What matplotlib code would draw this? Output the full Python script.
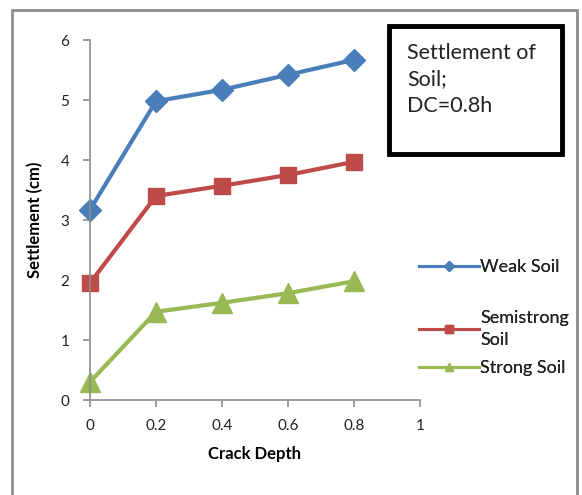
import matplotlib.pyplot as plt
from matplotlib.patches import Rectangle

plt.rcParams['font.family'] = ['Lato', 'DejaVu Sans']

crack_depth = [0, 0.2, 0.4, 0.6, 0.8]
weak_soil = [3.17, 4.98, 5.17, 5.42, 5.67]
semistrong_soil = [1.95, 3.40, 3.57, 3.75, 3.97]
strong_soil = [0.30, 1.47, 1.62, 1.78, 1.98]

series_labels = ['Weak Soil', 'Semistrong\nSoil', 'Strong Soil']
x_ticks = [0, 0.2, 0.4, 0.6, 0.8, 1]
y_ticks = [0, 1, 2, 3, 4, 5, 6]

W, H = 582, 495
fig = plt.figure(figsize=(W / 100, H / 100), dpi=100)
ax = fig.add_axes([90 / W, 1 - 400 / H, 330 / W, 360 / H])

# outer chart frame (bottom edge runs off the picture)
fig.patches.append(Rectangle((12 / W, -0.05), 565 / W, 1.05 - 10 / H,
                             transform=fig.transFigure, fill=False,
                             edgecolor='#8c8c8c', linewidth=2))

l1, = ax.plot(crack_depth, weak_soil, color='#4A7EBB', lw=3, marker='D',
              ms=11, clip_on=False)
l2, = ax.plot(crack_depth, semistrong_soil, color='#BE4B48', lw=3, marker='s',
              ms=12, clip_on=False)
l3, = ax.plot(crack_depth, strong_soil, color='#98B954', lw=3, marker='^',
              ms=14, clip_on=False)

ax.set_xlim(0, 1)
ax.set_ylim(0, 6)
ax.set_xticks(x_ticks)
ax.set_xticklabels([f'{v:g}' for v in x_ticks])
ax.set_yticks(y_ticks)
for s in ['top', 'right']:
    ax.spines[s].set_visible(False)
for s in ['left', 'bottom']:
    ax.spines[s].set_color('#8c8c8c')
    ax.spines[s].set_linewidth(1.2)
ax.tick_params(axis='both', colors='#8c8c8c', labelcolor='#222222',
               labelsize=11, length=5, width=1.2)
ax.tick_params(axis='x', pad=9)
ax.tick_params(axis='y', pad=10)
ax.set_xlabel('Crack Depth', fontsize=12, fontweight='bold', labelpad=9)
ax.set_ylabel('Settlement (cm)', fontsize=12, fontweight='bold', labelpad=12)

# one legend per entry so the uneven spacing of the original can be kept
for line, lab, yc in [(l1, series_labels[0], 267),
                      (l2, series_labels[1], 329),
                      (l3, series_labels[2], 368)]:
    lg = fig.legend([line], [lab], loc='center left',
                    bbox_to_anchor=(419 / W, 1 - yc / H), frameon=False,
                    fontsize=13, handlelength=3.3, handletextpad=0.1,
                    markerscale=0.45, borderaxespad=0, borderpad=0)
    for t in lg.get_texts():
        t.set_color('#222222')
        t.set_linespacing(1.45)
    for h in lg.legend_handles:
        h.set_linewidth(2.2)
    fig.add_artist(lg)

fig.text(407 / W, 1 - 43 / H, 'Settlement of\nSoil;\nDC=0.8h', fontsize=15.5,
         va='top', ha='left', linespacing=1.4, color='#222222')
fig.patches.append(Rectangle((389 / W, 1 - 154 / H), 173 / W, 128 / H,
                             transform=fig.transFigure, fill=False,
                             edgecolor='black', linewidth=3.5))

fig.savefig('out.png', dpi=100)
